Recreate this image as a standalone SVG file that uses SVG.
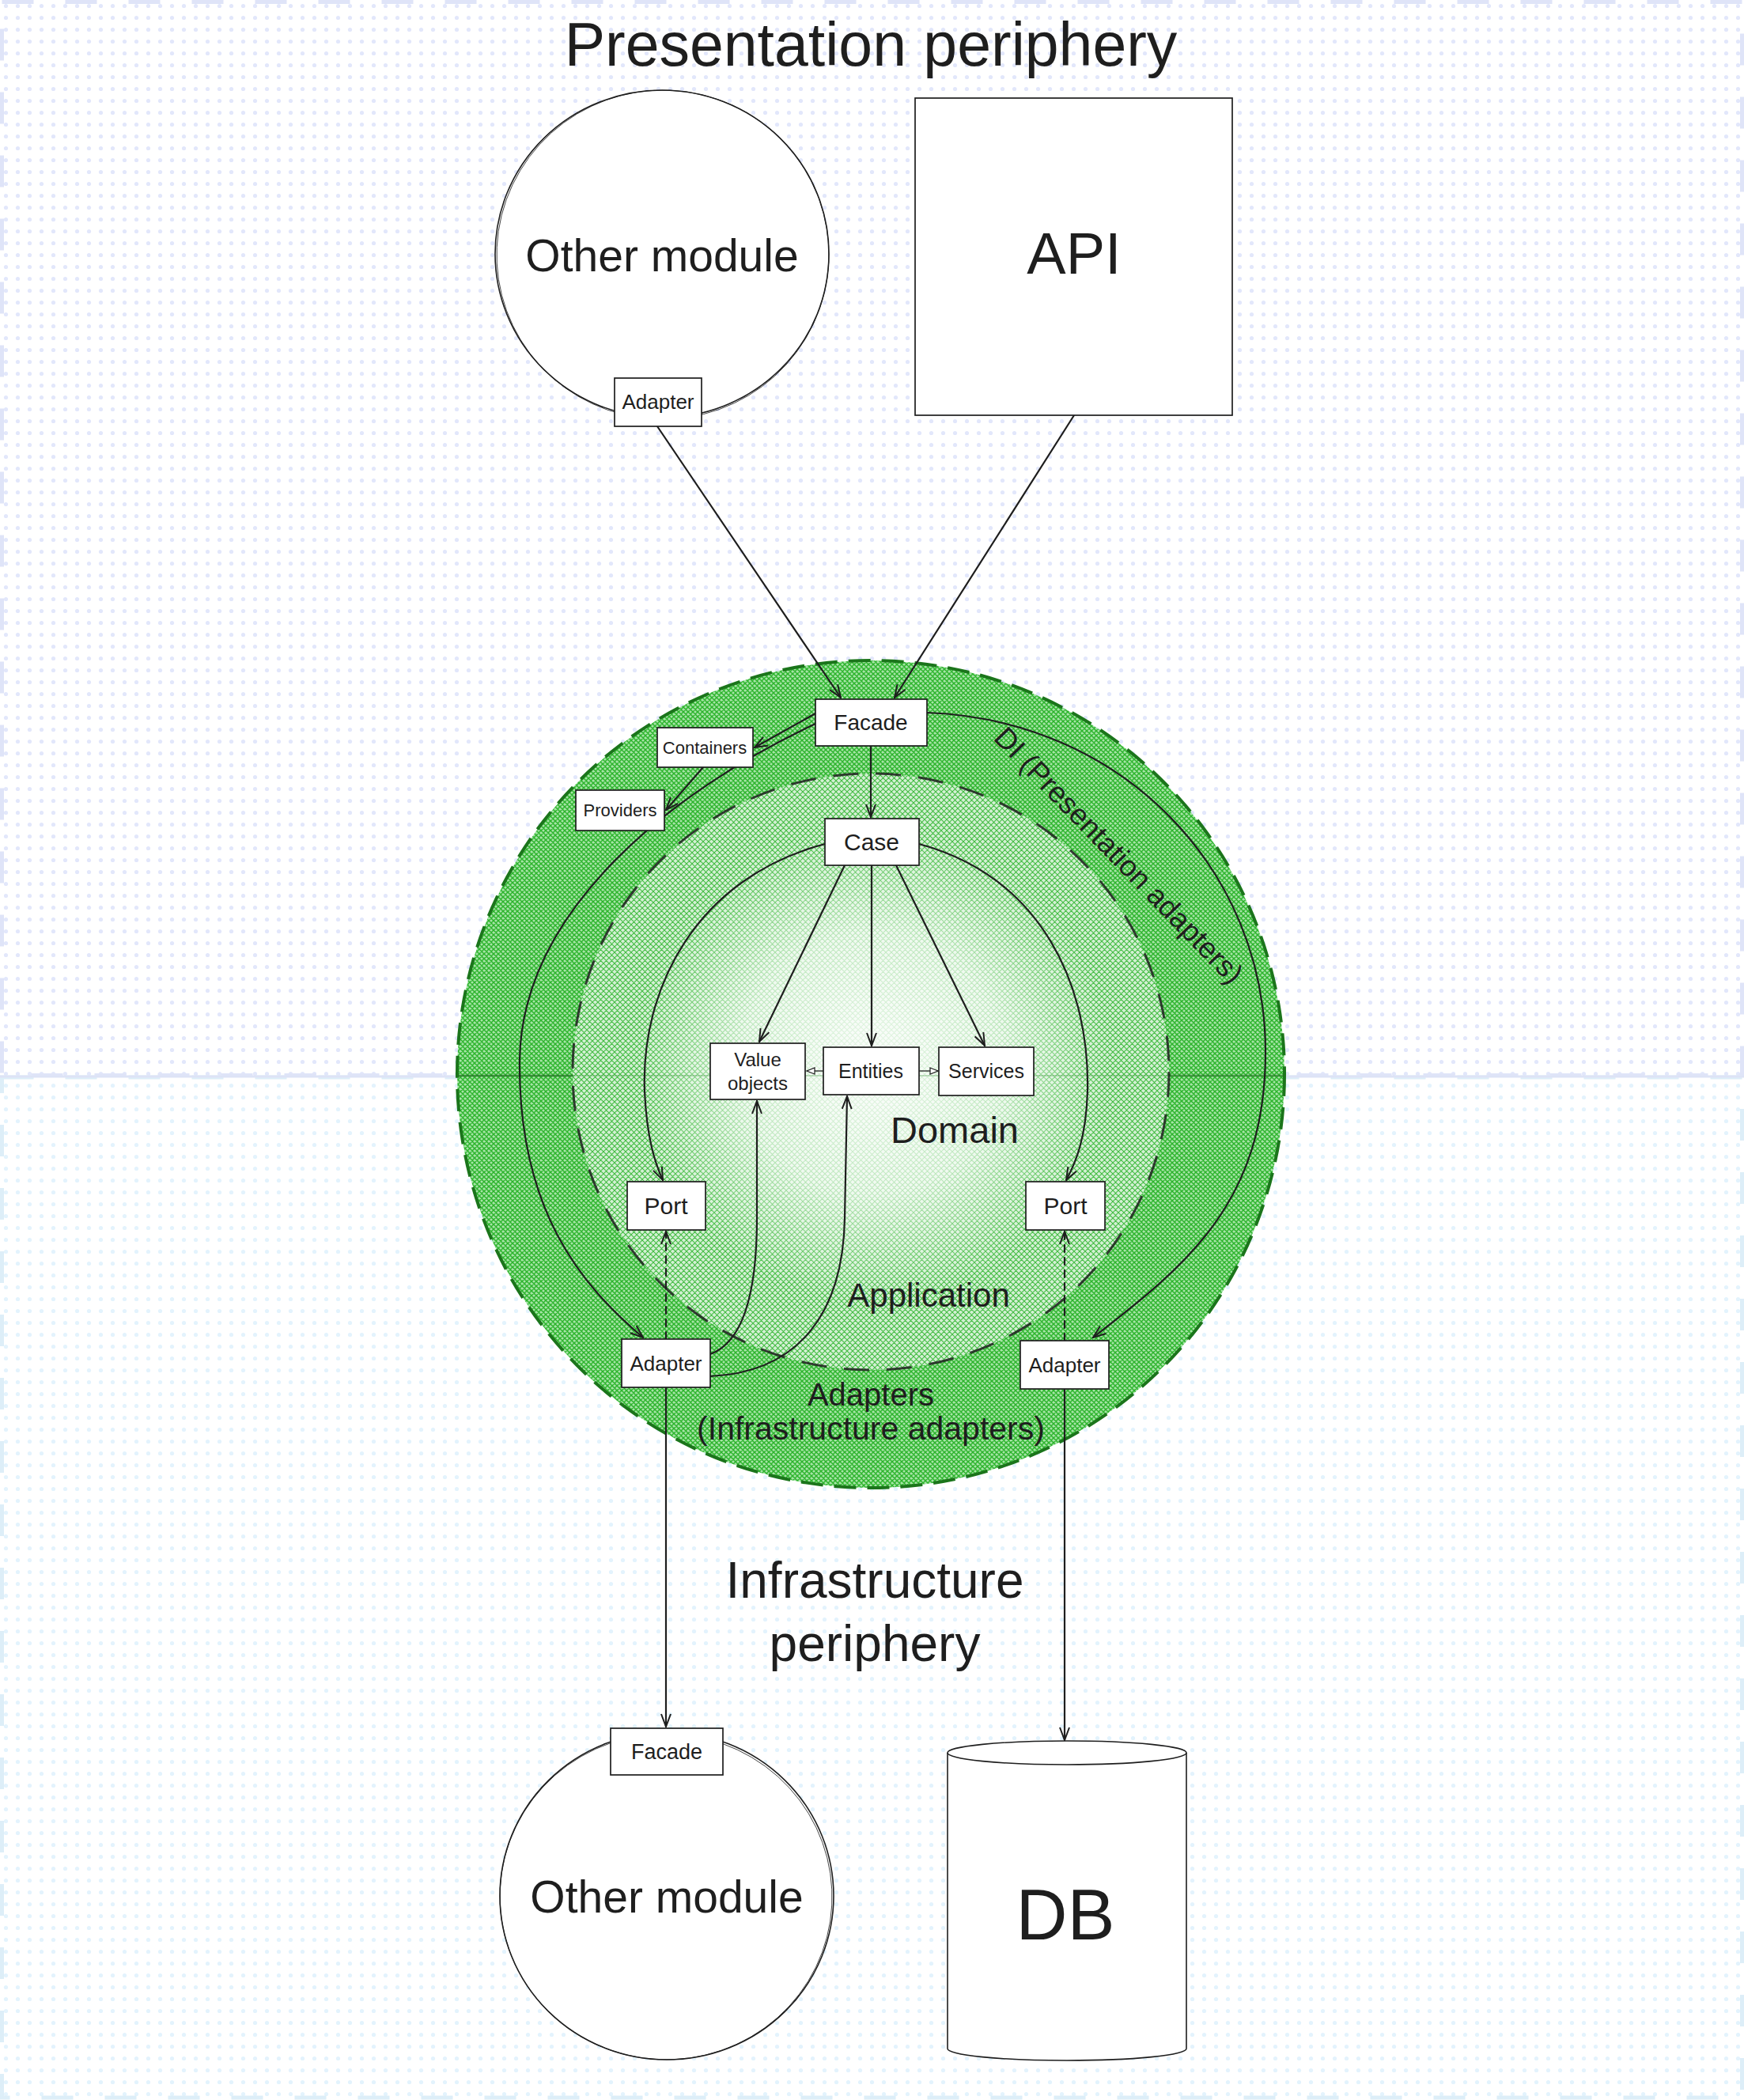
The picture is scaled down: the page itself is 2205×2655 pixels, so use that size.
<svg xmlns="http://www.w3.org/2000/svg" width="2205" height="2655" viewBox="0 0 2205 2655">
<style>
.box{fill:#ffffff;stroke:#1e1e1e;stroke-width:1.7}
.shape{fill:#ffffff;stroke:#1e1e1e;stroke-width:1.6}
.lbl{font-family:'Liberation Sans',Arial,sans-serif;fill:#1e1e1e;text-anchor:middle}
.con{fill:none;stroke:#1e1e1e;stroke-width:2.2;stroke-linecap:round}
.thin{fill:none;stroke:#1e1e1e;stroke-width:1.3}
.dash{stroke-dasharray:9 7}
</style>
<defs>
<pattern id="dotsTop" width="15" height="15" patternUnits="userSpaceOnUse"><circle cx="7.5" cy="7.5" r="2.6" fill="#e2e7fb"/></pattern>
<pattern id="dotsBot" width="15" height="15" patternUnits="userSpaceOnUse"><circle cx="7.5" cy="7.5" r="2.6" fill="#e3f3fd"/></pattern>
<pattern id="hatchOuter" width="6" height="6" patternUnits="userSpaceOnUse">
<rect width="6" height="6" fill="#a6e4a6"/>
<path d="M0,0 L6,6 M-1,5 L1,7 M5,-1 L7,1 M6,0 L0,6 M-1,1 L1,-1 M5,7 L7,5" stroke="#2db42d" stroke-width="1.5"/>
</pattern>
<pattern id="hatchApp" width="7" height="7" patternUnits="userSpaceOnUse">
<rect width="7" height="7" fill="#d4f0d4"/>
<path d="M0,0 L7,7 M-1,6 L1,8 M6,-1 L8,1 M7,0 L0,7 M-1,1 L1,-1 M6,8 L8,6" stroke="#42bc42" stroke-width="1.1"/>
</pattern>
<radialGradient id="domainGlow" cx="0.5" cy="0.5" r="0.5">
<stop offset="0" stop-color="#ffffff" stop-opacity="0.9"/>
<stop offset="0.55" stop-color="#ffffff" stop-opacity="0.65"/>
<stop offset="1" stop-color="#ffffff" stop-opacity="0"/>
</radialGradient>
<marker id="arr" viewBox="0 0 18 14" refX="17" refY="7" markerWidth="18" markerHeight="14" orient="auto" markerUnits="userSpaceOnUse">
<path d="M1,1 L17,7 L1,13" fill="none" stroke="#1e1e1e" stroke-width="2"/>
</marker>
<marker id="tri" viewBox="0 0 12 10" refX="11" refY="5" markerWidth="12" markerHeight="10" orient="auto" markerUnits="userSpaceOnUse">
<path d="M1,1 L11,5 L1,9 Z" fill="#ffffff" stroke="#1e1e1e" stroke-width="1.2"/>
</marker>
</defs>

<g id="background">
<rect x="0" y="0" width="2205" height="2655" fill="#ffffff"/>
<rect x="0" y="0" width="2205" height="1360" fill="url(#dotsTop)"/>
<rect x="0" y="1360" width="2205" height="1295" fill="url(#dotsBot)"/>
<rect x="2.5" y="2.5" width="2200" height="1357" fill="none" stroke="#dfe4f8" stroke-width="5" stroke-dasharray="40 40"/>
<rect x="2.5" y="1362" width="2200" height="1290" fill="none" stroke="#ddeef8" stroke-width="5" stroke-dasharray="40 40"/>
<line x1="0" y1="1361" x2="2205" y2="1361" stroke="#dde3f6" stroke-width="3"/>
</g>

<g id="layers">
<g id="adapters-ring">
<circle cx="1101" cy="1358" r="523" fill="url(#hatchOuter)"/>
</g>
<g id="application-ring">
<circle cx="1101" cy="1355" r="377" fill="url(#hatchApp)"/>
<circle cx="1103" cy="1345" r="300" fill="url(#domainGlow)"/>
</g>
<line x1="578" y1="1360" x2="725" y2="1360" stroke="#1f6f1f" stroke-width="2.5" opacity="0.7"/>
<line x1="1477" y1="1360" x2="1624" y2="1360" stroke="#1f6f1f" stroke-width="2.5" opacity="0.6"/>
<line x1="725" y1="1360" x2="1477" y2="1360" stroke="#2e8a2e" stroke-width="1.5" opacity="0.35"/>
<circle cx="1101" cy="1358" r="523" fill="none" stroke="#1b751b" stroke-width="4" stroke-dasharray="28 14"/>
<circle cx="1101" cy="1355" r="377" fill="none" stroke="#1e1e1e" stroke-width="3" stroke-dasharray="32 22" opacity="0.85"/>
<text class="lbl" x="1414" y="1094" font-size="37" transform="rotate(46 1414 1082)">DI (Presentation adapters)</text>
<text class="lbl" x="1207" y="1445" font-size="47">Domain</text>
<text class="lbl" x="1174" y="1652" font-size="42">Application</text>
<text class="lbl" x="1101" y="1777" font-size="40">Adapters</text>
<text class="lbl" x="1101" y="1820" font-size="41">(Infrastructure adapters)</text>
</g>

<g id="connectors">
<path class="con" d="M831,539 L1063,882" marker-end="url(#arr)"/>
<path class="con" d="M1358,525 L1131,882" marker-end="url(#arr)"/>
<path class="con" d="M1031,902 L954,945" marker-end="url(#arr)"/>
<path class="con" d="M889,970 L842,1024" marker-end="url(#arr)"/>
<path class="con" d="M1101,943 L1101,1033" marker-end="url(#arr)"/>
<path class="con" d="M1031,915 C850,1000 660,1150 657,1340 C655,1530 735,1625 813,1691" marker-end="url(#arr)"/>
<path class="con" d="M1172,901 C1420,910 1600,1100 1600,1330 C1600,1520 1500,1600 1382,1691" marker-end="url(#arr)"/>
<path class="con" d="M1043,1067 C880,1110 810,1250 815,1380 C818,1440 828,1470 838,1492" marker-end="url(#arr)"/>
<path class="con" d="M1162,1067 C1320,1110 1378,1250 1375,1380 C1373,1440 1360,1470 1348,1492" marker-end="url(#arr)"/>
<path class="con" d="M1068,1094 L960,1317" marker-end="url(#arr)"/>
<path class="con" d="M1102,1094 L1102,1322" marker-end="url(#arr)"/>
<path class="con" d="M1133,1094 L1245,1322" marker-end="url(#arr)"/>
<path class="thin" d="M1041,1354 L1020,1354" marker-end="url(#tri)"/>
<path class="thin" d="M1162,1354 L1186,1354" marker-end="url(#tri)"/>
<path class="con dash" d="M842,1693 L842,1557" marker-end="url(#arr)"/>
<path class="con dash" d="M1346,1695 L1346,1557" marker-end="url(#arr)"/>
<path class="con" d="M898,1712 C945,1695 957,1620 957,1540 L957,1392" marker-end="url(#arr)"/>
<path class="con" d="M898,1740 C1010,1735 1066,1660 1068,1540 L1071,1386" marker-end="url(#arr)"/>
<path class="con" d="M842,1754 L842,2183" marker-end="url(#arr)"/>
<path class="con" d="M1346,1756 L1346,2200" marker-end="url(#arr)"/>
</g>

<g id="node-other-module-top">
<ellipse class="shape" cx="837" cy="321" rx="211" ry="207"/>
<ellipse cx="838" cy="322" rx="210" ry="208" fill="none" stroke="#1e1e1e" stroke-width="0.8" transform="rotate(-3 838 322)"/>
<text class="lbl" x="837" y="343" font-size="57">Other module</text>
</g>
<g id="node-adapter-top">
<rect class="box" x="777" y="478" width="110" height="61"/>
<text class="lbl" x="832" y="517" font-size="26">Adapter</text>
</g>
<g id="node-api">
<rect class="box" x="1157" y="124" width="401" height="401"/>
<text class="lbl" x="1358" y="346" font-size="74">API</text>
</g>
<g id="node-facade">
<rect class="box" x="1031" y="884" width="141" height="59"/>
<text class="lbl" x="1101" y="923" font-size="28">Facade</text>
</g>
<g id="node-containers">
<rect class="box" x="831" y="920" width="121" height="50"/>
<text class="lbl" x="891" y="953" font-size="22">Containers</text>
</g>
<g id="node-providers">
<rect class="box" x="728" y="999" width="112" height="51"/>
<text class="lbl" x="784" y="1032" font-size="22">Providers</text>
</g>
<g id="node-case">
<rect class="box" x="1043" y="1035" width="119" height="59"/>
<text class="lbl" x="1102" y="1075" font-size="30">Case</text>
</g>
<g id="node-value-objects">
<rect class="box" x="898" y="1319" width="120" height="71"/>
<text class="lbl" x="958" y="1348" font-size="24">Value</text>
<text class="lbl" x="958" y="1378" font-size="24">objects</text>
</g>
<g id="node-entities">
<rect class="box" x="1041" y="1324" width="121" height="60"/>
<text class="lbl" x="1101" y="1363" font-size="25">Entities</text>
</g>
<g id="node-services">
<rect class="box" x="1187" y="1324" width="120" height="61"/>
<text class="lbl" x="1247" y="1363" font-size="25">Services</text>
</g>
<g id="node-port-left">
<rect class="box" x="793" y="1494" width="99" height="61"/>
<text class="lbl" x="842" y="1535" font-size="30">Port</text>
</g>
<g id="node-port-right">
<rect class="box" x="1297" y="1494" width="100" height="61"/>
<text class="lbl" x="1347" y="1535" font-size="30">Port</text>
</g>
<g id="node-adapter-left">
<rect class="box" x="786" y="1693" width="112" height="61"/>
<text class="lbl" x="842" y="1733" font-size="26">Adapter</text>
</g>
<g id="node-adapter-right">
<rect class="box" x="1290" y="1695" width="112" height="61"/>
<text class="lbl" x="1346" y="1735" font-size="26">Adapter</text>
</g>
<g id="node-other-module-bottom">
<ellipse class="shape" cx="843" cy="2397" rx="211" ry="207"/>
<ellipse cx="842" cy="2398" rx="210" ry="206" fill="none" stroke="#1e1e1e" stroke-width="0.8" transform="rotate(3 842 2398)"/>
<text class="lbl" x="843" y="2418" font-size="57">Other module</text>
</g>
<g id="node-facade-bottom">
<rect class="box" x="772" y="2185" width="142" height="59"/>
<text class="lbl" x="843" y="2224" font-size="27">Facade</text>
</g>
<g id="node-db">
<path class="shape" d="M1198,2216 L1198,2590 A151,15 0 0 0 1500,2590 L1500,2216"/>
<ellipse class="shape" cx="1349" cy="2216" rx="151" ry="15"/>
<text class="lbl" x="1347" y="2452" font-size="90">DB</text>
</g>

<g id="titles">
<text class="lbl" x="1101" y="83" font-size="77">Presentation periphery</text>
<text class="lbl" x="1106" y="2020" font-size="64">Infrastructure</text>
<text class="lbl" x="1106" y="2100" font-size="64">periphery</text>
</g>
</svg>
